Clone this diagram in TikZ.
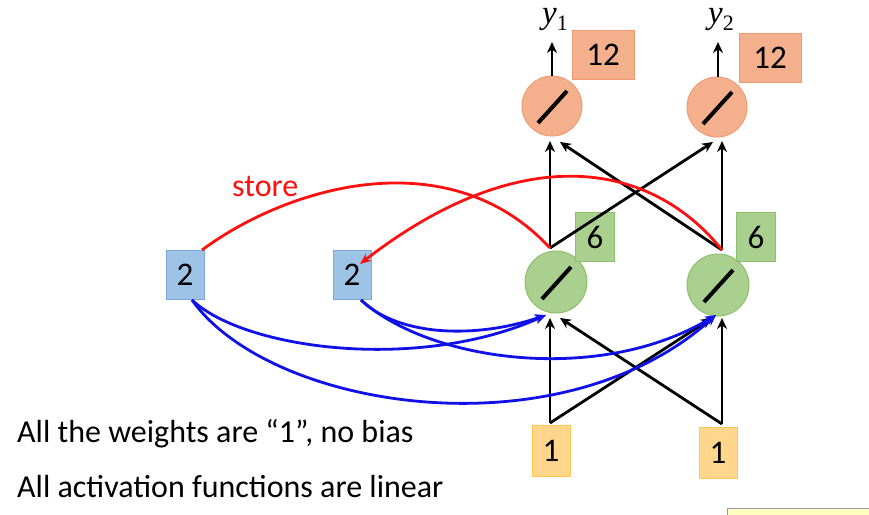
\documentclass[tikz,border=0pt]{standalone}
\usepackage{fontspec}
\setmainfont{Carlito}
\newfontfamily\ylabfont{Liberation Serif}
\usetikzlibrary{arrows.meta,calc}
\definecolor{orfill}{HTML}{F4B08C}
\definecolor{ordraw}{HTML}{F09A72}
\definecolor{grfill}{HTML}{A9D08E}
\definecolor{grdraw}{HTML}{8CBF6C}
\definecolor{blfill}{HTML}{9DC3E6}
\definecolor{bldraw}{HTML}{7DA7D9}
\definecolor{yefill}{HTML}{FFD68C}
\definecolor{yedraw}{HTML}{FFC84A}
\definecolor{redline}{HTML}{FF1010}
\definecolor{blueline}{HTML}{1010E8}
\newcommand{\ysub}[1]{{\ylabfont\fontsize{33}{33}\selectfont\itshape y}{\ylabfont\fontsize{22}{22}\selectfont\raisebox{-7pt}{#1}}}
\tikzset{
  neuron/.style={circle, inner sep=0pt, line width=1pt},
  outn/.style={neuron, fill=orfill, draw=ordraw, minimum size=60pt},
  hidn/.style={neuron, fill=grfill, draw=grdraw, minimum size=62pt},
  valbox/.style={rectangle, inner sep=0pt, line width=1pt, font=\fontsize{33}{33}\selectfont},
  outbox/.style={valbox, fill=orfill, draw=ordraw, minimum width=62pt, minimum height=49pt},
  hidbox/.style={valbox, fill=grfill, draw=grdraw, minimum width=39pt, minimum height=49pt},
  ctxbox/.style={valbox, fill=blfill, draw=bldraw, minimum width=38pt, minimum height=49pt},
  inbox/.style={valbox, fill=yefill, draw=yedraw, minimum width=38pt, minimum height=51pt},
  blk/.style={line width=2.8pt, black, -{Stealth[length=11pt,width=10pt]}},
  redc/.style={line width=2.8pt, redline},
  bluec/.style={line width=2.8pt, blueline, -{Stealth[length=11pt,width=9pt]}},
  slash/.style={line width=4pt, black},
  txt/.style={font=\fontsize{32}{32}\selectfont, inner sep=0pt, anchor=base west},
  ylab/.style={inner sep=0pt, text height=16pt, text depth=9pt}
}
\begin{document}
\begin{tikzpicture}[x=1pt,y=-1pt]
\useasboundingbox (0,0) rectangle (869,514);
\fill[white] (0,0) rectangle (869,514);

% watermark box (cut off)
\path[fill=yellow!25, draw=black!40, line width=0.8pt] (727,508) rectangle (875,520);

% nodes
\node[outn] (o1) at (552,106) {};
\node[outn] (o2) at (717,107) {};
\node[hidn] (h1) at (556,282) {};
\node[hidn] (h2) at (718,285) {};
\node[outbox] (t1) at (603,55) {12};
\node[outbox] (t2) at (770,58) {12};
\node[hidbox] (s1) at (595,237) {6};
\node[hidbox] (s2) at (756,237) {6};
\node[ctxbox] (c1) at (185,275) {2};
\node[ctxbox] (c2) at (352,275) {2};
\node[inbox] (x1) at (551,451) {1};
\node[inbox] (x2) at (718,453) {1};
\node[ylab, anchor=base] (y1) at (555,23) {\ysub{1}};
\node[ylab, anchor=base] (y2) at (721,23) {\ysub{2}};

% slashes in neurons
\foreach \n in {o1,o2,h1,h2}{
  \draw[slash] ($(\n.center)+(-14,17)$) -- ($(\n.center)+(15,-15)$);
}

% connection points
\coordinate (i1) at (550,423);
\coordinate (i2) at (722,424);
\coordinate (h1b) at (550,318);
\coordinate (h1bd) at (560,318);
\coordinate (h2b) at (722,318);
\coordinate (h2bd) at (712,318);
\coordinate (h1t) at (550,248);
\coordinate (h2t) at (722,250);
\coordinate (o1b) at (550,141);
\coordinate (o1bd) at (560,142);
\coordinate (o2b) at (722,141);
\coordinate (o2bd) at (713,142);
\coordinate (o1t) at (552,76);
\coordinate (o2t) at (718,77);
\coordinate (y1b) at (552,42);
\coordinate (y2b) at (718,42);
\coordinate (c1tr) at (202,250);
\coordinate (c2tr) at (360,264);
\coordinate (c1b) at (192,300);
\coordinate (c2b) at (361,300);
\coordinate (h1bl) at (546,315);
\coordinate (h2bl) at (716,315);

% input to hidden
\draw[blk] (i1) -- (h1b);
\draw[blk] (i1) -- (h2bd);
\draw[blk] (i2) -- (h2b);
\draw[blk] (i2) -- (h1bd);

% hidden to output
\draw[blk] (h1t) -- (o1b);
\draw[blk] (h1t) -- (o2bd);
\draw[blk] (h2t) -- (o2b);
\draw[blk] (h2t) -- (o1bd);

% outputs
\draw[blk] (o1t) -- (y1b);
\draw[blk] (o2t) -- (y2b);

% store (red) curves
\draw[redc] (c1tr) .. controls (290,185) and (450,140) .. (h1t);
\draw[redc, -{Stealth[length=11pt,width=9pt]}] (h2t) .. controls (650,160) and (520,140) .. (c2tr);
\node[txt, text=redline] (st) at (232,196) {store};

% context to hidden (blue)
\draw[bluec] (c1b) .. controls (245,350) and (420,372) .. (h1bl);
\draw[bluec] (c1b) .. controls (270,410) and (560,455) .. (h2bl);
\draw[bluec] (c2b) .. controls (400,338) and (480,338) .. (h1bl);
\draw[bluec] (c2b) .. controls (430,362) and (600,385) .. (h2bl);

% texts
\node[txt] (l1) at (17,442) {All the weights are “1”, no bias};
\node[txt] (l2) at (17,497) {All activation functions are linear};
\end{tikzpicture}
\end{document}
